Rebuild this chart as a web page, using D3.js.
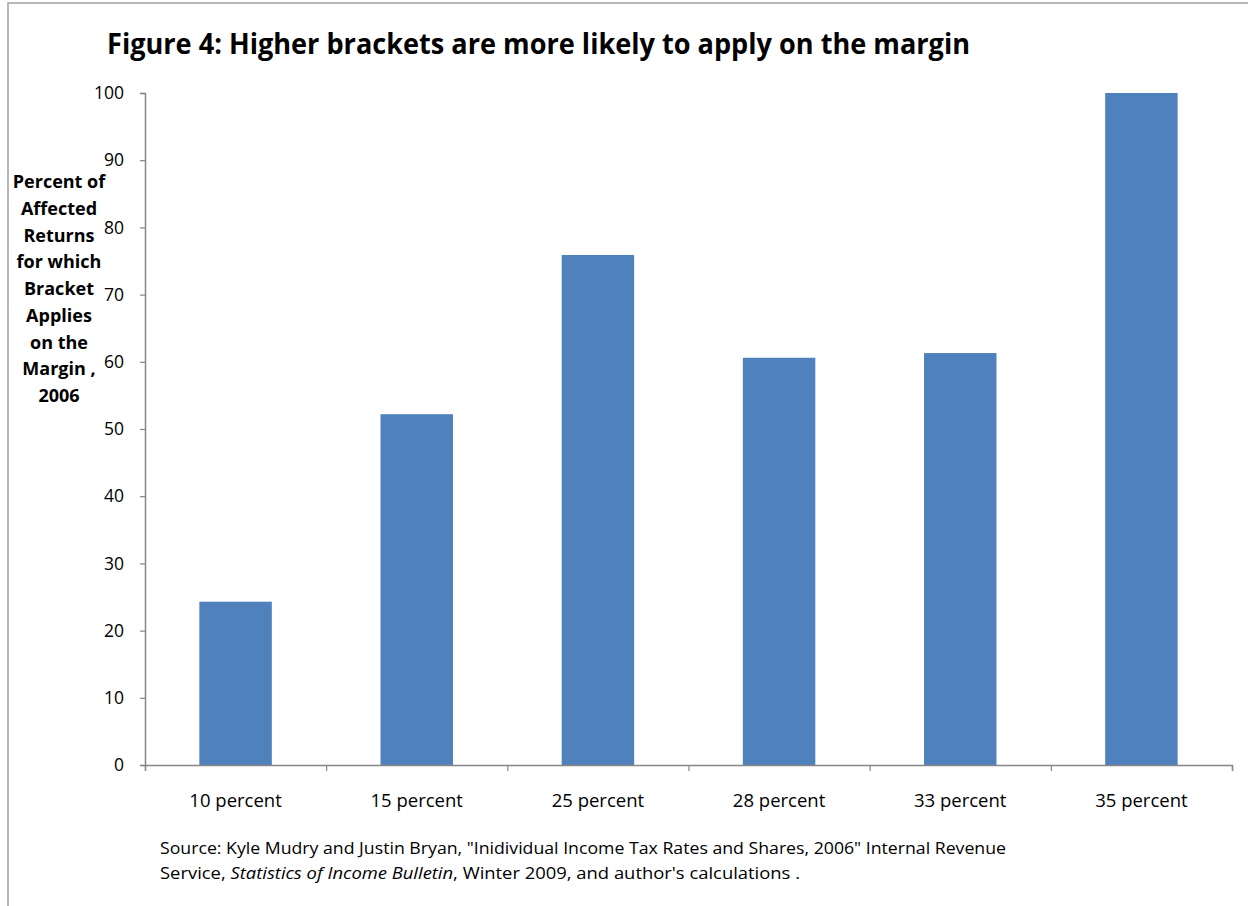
<!DOCTYPE html>
<html><head><meta charset="utf-8">
<script src="https://cdn.jsdelivr.net/npm/d3@7"></script>
<style>body{margin:0;background:#fff}svg{display:block}text{font-family:"Open Sans",Lato,sans-serif}</style>
</head><body>
<svg id="c" width="1248" height="906"></svg>
<script>
const categories = ["10 percent","15 percent","25 percent","28 percent","33 percent","35 percent"];
const values = [24.3, 52.2, 75.9, 60.6, 61.3, 100];
const yTicks = [0,10,20,30,40,50,60,70,80,90,100];
const titleText = "Figure 4: Higher brackets are more likely to apply on the margin";
const yTitleLines = ["Percent of","Affected","Returns","for which","Bracket","Applies","on the","Margin ,","2006"];
const sourceLines = [
  [{t:"Source: Kyle Mudry and Justin Bryan, \"Inidividual Income Tax Rates and Shares, 2006\"  Internal Revenue"}],
  [{t:"Service, "},{t:"Statistics of Income Bulletin",i:true},{t:", Winter 2009,  and author's calculations  ."}]
];

const svg = d3.select("#c");
svg.append("path").attr("d","M8,906 V3 H1248").attr("fill","none").attr("stroke","#a0a0a0").attr("stroke-width",1.5);

const x0=145, x1=1232, yB=765, yT=93;
const x = d3.scaleBand().domain(categories).range([x0,x1]).paddingInner(0.6).paddingOuter(0.3);
const y = d3.scaleLinear().domain([0,100]).range([yB,yT]);

svg.append("text").attr("x",107).attr("y",54).attr("font-size",28).attr("font-weight","bold")
  .attr("textLength",863).attr("lengthAdjust","spacingAndGlyphs").text(titleText);

svg.selectAll("rect.bar").data(values).join("rect").attr("class","bar")
  .attr("x",(d,i)=>x(categories[i])).attr("width",x.bandwidth())
  .attr("y",d=>y(d)).attr("height",d=>yB-y(d)).attr("fill","#4F81BD");

const ya = svg.append("g").attr("transform",`translate(${x0},0)`)
  .call(d3.axisLeft(y).tickValues(yTicks).tickSize(5).tickPadding(16));
ya.attr("font-family",null).attr("font-size",null);
ya.select(".domain").attr("stroke","#868686").attr("stroke-width",1.5);
ya.selectAll(".tick line").attr("stroke","#868686").attr("stroke-width",1.2);
ya.selectAll(".tick text").attr("font-size",17.5).attr("fill","#000");

const xb = d3.scaleLinear().domain([0,categories.length]).range([x0,x1]);
const xa = svg.append("g").attr("transform",`translate(0,${yB})`)
  .call(d3.axisBottom(xb).tickValues(d3.range(categories.length+1)).tickSize(6).tickFormat(""));
xa.select(".domain").attr("stroke","#868686").attr("stroke-width",1.5);
xa.selectAll(".tick line").attr("stroke","#868686").attr("stroke-width",1.2);

svg.selectAll("text.xl").data(categories).join("text").attr("class","xl")
  .attr("x",d=>x(d)+x.bandwidth()/2).attr("y",807).attr("text-anchor","middle")
  .attr("font-size",18.5).text(d=>d);

svg.selectAll("text.yt").data(yTitleLines).join("text").attr("class","yt")
  .attr("x",59).attr("y",(d,i)=>188+i*26.75).attr("text-anchor","middle")
  .attr("font-size",18).attr("font-weight","bold").text(d=>d);

sourceLines.forEach((ln,i)=>{
  const t = svg.append("text").attr("x",160).attr("y",854+i*25).attr("font-size",16);
  ln.forEach(s=>t.append("tspan").attr("font-style",s.i?"italic":null).text(s.t));
  t.attr("textLength",i===0?846:640).attr("lengthAdjust","spacingAndGlyphs");
});
</script>
</body></html>
